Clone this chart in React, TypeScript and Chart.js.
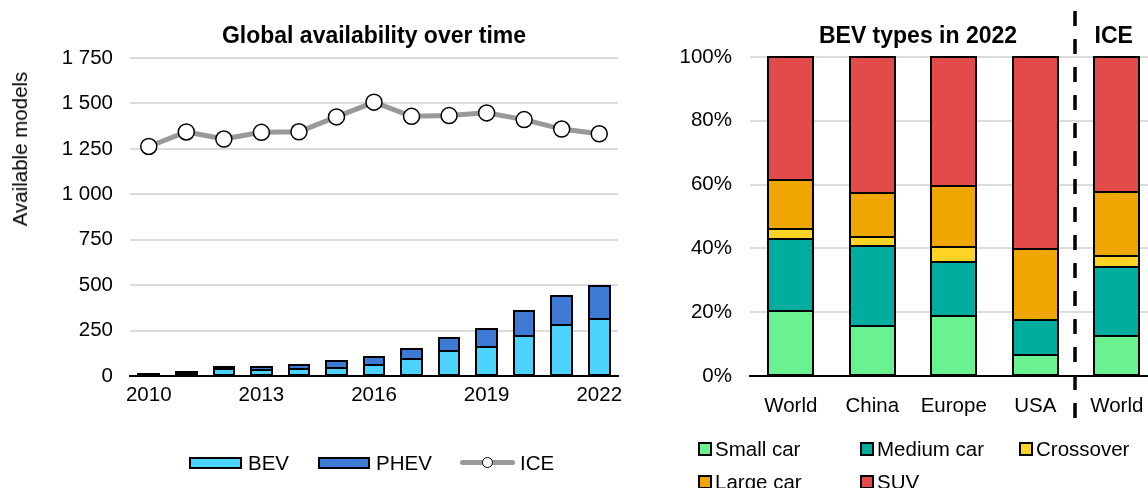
import React, { useEffect, useRef } from "react";
import { Chart, registerables } from "chart.js";

Chart.register(...registerables);

const FONT = "'Liberation Sans', Arial, sans-serif";

// ---------- Left panel data ----------
const YEARS = ["2010", "2011", "2012", "2013", "2014", "2015", "2016", "2017", "2018", "2019", "2020", "2021", "2022"];
const BEV_MODELS = [7, 15, 37, 35, 40, 46, 62, 92, 138, 161, 222, 282, 314];
const PHEV_MODELS = [4, 9, 11, 15, 20, 38, 44, 58, 71, 99, 137, 160, 183];
const ICE_MODELS = [1263, 1343, 1304, 1341, 1344, 1426, 1507, 1429, 1433, 1448, 1411, 1359, 1333];
const LEFT_TITLE = "Global availability over time";
const LEFT_Y_TITLE = "Available models";

// ---------- Right panel data ----------
const REGIONS = ["World", "China", "Europe", "USA", "World"];
const SMALL_CAR = [20.5, 15.7, 18.8, 6.5, 12.4];
const MEDIUM_CAR = [22.4, 25.2, 17.0, 11.0, 21.8];
const CROSSOVER = [3.3, 2.6, 4.6, 0, 3.5];
const LARGE_CAR = [15.1, 13.8, 19.2, 22.3, 19.9];
const SUV = [38.7, 42.7, 40.4, 60.2, 42.4];
const RIGHT_TITLES = ["BEV types in 2022", "ICE"];

const C_BEV = "#4bd3fc";
const C_PHEV = "#3e79d4";
const C_ICE = "#999999";
const C_SMALL = "#6af291";
const C_MEDIUM = "#00ad9f";
const C_CROSS = "#fdd426";
const C_LARGE = "#f0a600";
const C_SUV = "#e34b4a";

const GRID = "#dcdcdc";
const TICK_FONT = { family: FONT, size: 20.5 };

const fmtThousands = (v: number) => {
  const s = String(Math.round(v));
  return s.replace(/\B(?=(\d{3})+(?!\d))/g, " ");
};

// Strokes a crisp black outline (centred on the edges) around every bar element
const barOutline = {
  id: "barOutline",
  afterDatasetsDraw(chart: any) {
    const { ctx } = chart;
    ctx.save();
    ctx.strokeStyle = "#000";
    ctx.lineWidth = 2;
    chart.data.datasets.forEach((_ds: any, i: number) => {
      const meta = chart.getDatasetMeta(i);
      if (meta.type !== "bar" || meta.hidden) return;
      meta.data.forEach((el: any) => {
        const p = el.getProps(["x", "y", "base", "width"], true);
        const l = Math.round(p.x - p.width / 2);
        const r = Math.round(p.x + p.width / 2);
        const t = Math.round(Math.min(p.y, p.base));
        const b = Math.round(Math.max(p.y, p.base));
        ctx.strokeRect(l, t, r - l, b - t);
      });
    });
    ctx.restore();
  },
};

function LeftChart() {
  const ref = useRef<HTMLCanvasElement | null>(null);
  useEffect(() => {
    if (!ref.current) return;
    const chart = new Chart(ref.current, {
      type: "bar",
      data: {
        labels: YEARS,
        datasets: [
          {
            type: "line",
            label: "ICE",
            data: ICE_MODELS,
            stack: "ice",
            order: 0,
            borderColor: C_ICE,
            borderWidth: 5,
            pointRadius: 8,
            pointBackgroundColor: "#ffffff",
            pointBorderColor: "#000000",
            pointBorderWidth: 1.5,
            tension: 0,
          } as any,
          {
            type: "bar",
            label: "BEV",
            data: BEV_MODELS,
            stack: "ev",
            order: 1,
            backgroundColor: C_BEV,
            borderWidth: 0,
            categoryPercentage: 1,
            barPercentage: 0.55,
          },
          {
            type: "bar",
            label: "PHEV",
            data: PHEV_MODELS,
            stack: "ev",
            order: 1,
            backgroundColor: C_PHEV,
            borderWidth: 0,
            categoryPercentage: 1,
            barPercentage: 0.55,
          },
        ],
      },
      options: {
        animation: false,
        responsive: false,
        layout: { padding: { left: 0, right: 22, top: 0, bottom: 0 } },
        plugins: {
          legend: { display: false },
          tooltip: { enabled: false },
          title: {
            display: true,
            text: LEFT_TITLE,
            fullSize: false,
            color: "#000",
            font: { family: FONT, size: 23, weight: "bold" },
            padding: { top: 23, bottom: 7.4 },
          },
        },
        scales: {
          x: {
            stacked: true,
            grid: { display: false, drawTicks: false },
            border: { display: true, color: "#000", width: 2 },
            ticks: {
              autoSkip: false,
              maxRotation: 0,
              minRotation: 0,
              padding: 7,
              color: "#000",
              font: TICK_FONT,
              callback: (_v: any, i: number) => (i % 3 === 0 ? YEARS[i] : ""),
            },
            afterFit: (s: any) => {
              s.height = 112;
            },
          },
          y: {
            stacked: true,
            min: 0,
            max: 1750,
            grid: { color: GRID, lineWidth: 2, drawTicks: false },
            border: { display: false },
            ticks: {
              stepSize: 250,
              padding: 17,
              color: "#000",
              font: TICK_FONT,
              callback: (v: any) => fmtThousands(Number(v)),
            },
            afterFit: (s: any) => {
              s.width = 130;
            },
          },
        },
      },
      plugins: [barOutline],
    });
    return () => chart.destroy();
  }, []);
  return <canvas ref={ref} width={640} height={488} style={{ display: "block" }} />;
}

const rightDecor = {
  id: "rightDecor",
  afterDraw(chart: any) {
    const { ctx } = chart;
    const x = chart.scales.x;
    ctx.save();
    ctx.fillStyle = "#000";
    ctx.font = `bold 23px ${FONT}`;
    ctx.textAlign = "center";
    ctx.textBaseline = "middle";
    const bevCenter = (x.getPixelForValue(0) + x.getPixelForValue(3)) / 2 + 5;
    ctx.fillText(RIGHT_TITLES[0], bevCenter, 37);
    ctx.fillText(RIGHT_TITLES[1], x.getPixelForValue(4) - 3, 37);
    const dx = (x.getPixelForValue(3) + x.getPixelForValue(4)) / 2 - 1;
    ctx.strokeStyle = "#000";
    ctx.lineWidth = 3.5;
    ctx.setLineDash([15, 13]);
    ctx.beginPath();
    ctx.moveTo(dx, 11);
    ctx.lineTo(dx, 418);
    ctx.stroke();
    ctx.restore();
  },
};

function RightChart() {
  const ref = useRef<HTMLCanvasElement | null>(null);
  useEffect(() => {
    if (!ref.current) return;
    const mk = (label: string, data: number[], color: string) => ({
      label,
      data,
      backgroundColor: color,
      borderWidth: 0,
      categoryPercentage: 1,
      barPercentage: 0.55,
    });
    const chart = new Chart(ref.current, {
      type: "bar",
      data: {
        labels: REGIONS,
        datasets: [
          mk("Small car", SMALL_CAR, C_SMALL),
          mk("Medium car", MEDIUM_CAR, C_MEDIUM),
          mk("Crossover", CROSSOVER, C_CROSS),
          mk("Large car", LARGE_CAR, C_LARGE),
          mk("SUV", SUV, C_SUV),
        ] as any,
      },
      options: {
        animation: false,
        responsive: false,
        layout: { padding: { left: 0, right: 12.5, top: 57, bottom: 0 } },
        plugins: {
          legend: { display: false },
          tooltip: { enabled: false },
        },
        scales: {
          x: {
            stacked: true,
            grid: { display: false, drawTicks: false },
            border: { display: true, color: "#000", width: 2 },
            ticks: {
              autoSkip: false,
              maxRotation: 0,
              minRotation: 0,
              padding: 18,
              color: "#000",
              font: TICK_FONT,
            },
            afterFit: (s: any) => {
              s.height = 112;
            },
          },
          y: {
            stacked: true,
            min: 0,
            max: 100,
            grid: { color: GRID, lineWidth: 2, drawTicks: false },
            border: { display: false },
            ticks: {
              stepSize: 20,
              padding: 18,
              color: "#000",
              font: TICK_FONT,
              callback: (v: any) => `${v}%`,
            },
            afterFit: (s: any) => {
              s.width = 110;
            },
          },
        },
      },
      plugins: [barOutline, rightDecor],
    });
    return () => chart.destroy();
  }, []);
  return <canvas ref={ref} width={530} height={488} style={{ display: "block" }} />;
}

const textStyle: React.CSSProperties = {
  fontFamily: FONT,
  fontSize: 20.5,
  color: "#000",
  lineHeight: "24px",
  whiteSpace: "nowrap",
};

const LEFT_LEGEND = [
  { label: "BEV", color: C_BEV, kind: "bar", x: 189, w: 53 },
  { label: "PHEV", color: C_PHEV, kind: "bar", x: 318, w: 52 },
  { label: "ICE", color: C_ICE, kind: "line", x: 460, w: 55 },
];

const RIGHT_LEGEND = [
  { label: "Small car", color: C_SMALL, x: 698, y: 449 },
  { label: "Medium car", color: C_MEDIUM, x: 860, y: 449 },
  { label: "Crossover", color: C_CROSS, x: 1019, y: 449 },
  { label: "Large car", color: C_LARGE, x: 698, y: 482 },
  { label: "SUV", color: C_SUV, x: 860, y: 482 },
];

export default function App() {
  return (
    <div
      style={{
        position: "fixed",
        left: 0,
        top: 0,
        width: 1148,
        height: 488,
        overflow: "hidden",
        background: "#fff",
      }}
    >
      <div style={{ position: "absolute", left: 0, top: 0, width: 640, height: 488 }}>
        <LeftChart />
      </div>
      <div style={{ position: "absolute", left: 640, top: 0, width: 530, height: 488 }}>
        <RightChart />
      </div>

      <div
        style={{
          ...textStyle,
          position: "absolute",
          left: 19.5,
          top: 149,
          transform: "translate(-50%, -50%) rotate(-90deg)",
        }}
      >
        {LEFT_Y_TITLE}
      </div>

      {LEFT_LEGEND.map((it) => (
        <div
          key={it.label}
          style={{
            position: "absolute",
            left: it.x,
            top: 462.5 - 12,
            height: 24,
            display: "flex",
            alignItems: "center",
          }}
        >
          {it.kind === "bar" ? (
            <div
              style={{
                width: it.w,
                height: 12,
                boxSizing: "border-box",
                border: "2px solid #000",
                background: it.color,
                marginRight: 6,
              }}
            />
          ) : (
            <div style={{ position: "relative", width: it.w, height: 12, marginRight: 5 }}>
              <div
                style={{
                  position: "absolute",
                  left: 0,
                  top: 3.5,
                  width: it.w,
                  height: 5,
                  borderRadius: 2.5,
                  background: it.color,
                }}
              />
              <div
                style={{
                  position: "absolute",
                  left: 27 - 5.5,
                  top: 0.5,
                  width: 11,
                  height: 11,
                  boxSizing: "border-box",
                  borderRadius: "50%",
                  border: "1.5px solid #000",
                  background: "#fff",
                }}
              />
            </div>
          )}
          <span style={textStyle}>{it.label}</span>
        </div>
      ))}

      {RIGHT_LEGEND.map((it) => (
        <div
          key={it.label}
          style={{
            position: "absolute",
            left: it.x,
            top: it.y - 12,
            height: 24,
            display: "flex",
            alignItems: "center",
          }}
        >
          <div
            style={{
              width: 14,
              height: 14,
              boxSizing: "border-box",
              border: "2px solid #000",
              background: it.color,
              marginRight: 3,
            }}
          />
          <span style={textStyle}>{it.label}</span>
        </div>
      ))}
    </div>
  );
}
